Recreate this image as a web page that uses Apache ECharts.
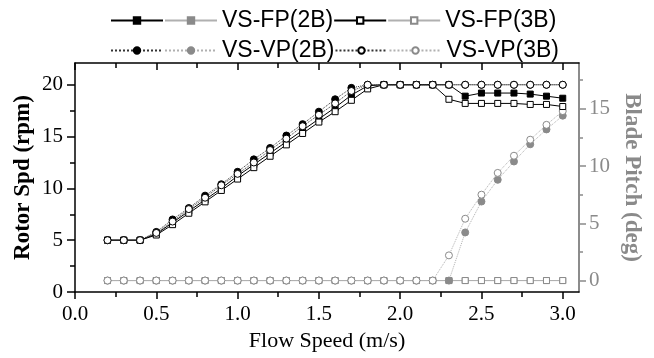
<!DOCTYPE html>
<html>
<head>
<meta charset="utf-8">
<script src="https://cdn.jsdelivr.net/npm/echarts@6/dist/echarts.min.js"></script>
<style>
  html, body { margin: 0; padding: 0; background: #fff; }
  #chart { width: 654px; height: 358px; }
</style>
</head>
<body>
<div id="chart"></div>
<script>
// flow speed (m/s)
var flowSpeed = [0.2, 0.3, 0.4, 0.5, 0.6, 0.7, 0.8, 0.9, 1.0, 1.1, 1.2, 1.3, 1.4, 1.5, 1.6,
  1.7, 1.8, 1.9, 2.0, 2.1, 2.2, 2.3, 2.4, 2.5, 2.6, 2.7, 2.8, 2.9, 3.0];

// rotor speed (rpm)
var rpmFP2B = [5.0, 5.0, 5.0, 5.6, 6.7, 7.8, 8.9, 10.0, 11.2, 12.3, 13.4, 14.5, 15.6, 16.7, 17.8,
  19.0, 19.9, 20, 20, 20, 20, 20, 18.9, 19.2, 19.2, 19.2, 19.1, 18.9, 18.7];
var rpmFP3B = [5.0, 5.0, 5.0, 5.5, 6.5, 7.6, 8.7, 9.8, 10.9, 12.0, 13.1, 14.2, 15.3, 16.4, 17.4,
  18.5, 19.6, 20, 20, 20, 20, 18.6, 18.2, 18.2, 18.2, 18.2, 18.1, 18.1, 17.9];
var rpmVP2B = [5.0, 5.0, 5.0, 5.8, 7.0, 8.1, 9.3, 10.4, 11.6, 12.8, 13.9, 15.1, 16.2, 17.4, 18.6,
  19.7, 20, 20, 20, 20, 20, 20, 20, 20, 20, 20, 20, 20, 20];
var rpmVP3B = [5.0, 5.0, 5.0, 5.7, 6.8, 8.0, 9.1, 10.3, 11.4, 12.5, 13.7, 14.8, 16.0, 17.1, 18.2,
  19.4, 20, 20, 20, 20, 20, 20, 20, 20, 20, 20, 20, 20, 20];

// blade pitch (deg)
var pitchFP2B = [0, 0, 0, 0, 0, 0, 0, 0, 0, 0, 0, 0, 0, 0, 0, 0, 0, 0, 0, 0, 0, 0, 0, 0, 0, 0, 0, 0, 0];
var pitchFP3B = [0, 0, 0, 0, 0, 0, 0, 0, 0, 0, 0, 0, 0, 0, 0, 0, 0, 0, 0, 0, 0, 0, 0, 0, 0, 0, 0, 0, 0];
var pitchVP2B = [0, 0, 0, 0, 0, 0, 0, 0, 0, 0, 0, 0, 0, 0, 0, 0, 0, 0, 0, 0, 0, 0,
  4.2, 6.9, 8.8, 10.4, 11.9, 13.2, 14.4];
var pitchVP3B = [0, 0, 0, 0, 0, 0, 0, 0, 0, 0, 0, 0, 0, 0, 0, 0, 0, 0, 0, 0, 0,
  2.2, 5.4, 7.5, 9.4, 10.9, 12.3, 13.6, 14.8];

// ticks
var xMajor = [0, 0.5, 1.0, 1.5, 2.0, 2.5, 3.0];
var xMinor = [0.25, 0.75, 1.25, 1.75, 2.25, 2.75];
var rpmMajor = [0, 5, 10, 15, 20];
var rpmMinor = [2.5, 7.5, 12.5, 17.5];
var pitchMajor = [0, 5, 10, 15];
var pitchMinor = [2.5, 7.5, 12.5, 17.5];

function pairs(ys) {
  return flowSpeed.map(function (x, i) { return [x, ys[i]]; });
}

var serif = '"Liberation Serif", "Times New Roman", serif';
var GRAY = '#8a8a8a';
var GRAY_LINE = '#b0b0b0';
var PLOT_H = 358 - 63 - 66;

function mk(name, ys, opt) {
  return {
    name: name,
    type: 'line',
    xAxisIndex: 0,
    yAxisIndex: opt.axis,
    data: pairs(ys),
    symbol: opt.symbol,
    symbolSize: opt.symbol === 'rect' ? 6 : 7,
    showAllSymbol: true,
    lineStyle: { color: opt.line, width: 1, type: opt.dash },
    itemStyle: { color: opt.fill, borderColor: opt.border, borderWidth: 1 },
    emphasis: { disabled: true },
    z: opt.z
  };
}

// x axis helper; top frame axes are bottom axes shifted up by the plot height,
// so their (downward) ticks point into the plot
function xAx(grid, ticks, len, withLine, shift) {
  return {
    gridIndex: grid, type: 'value', position: 'bottom', offset: shift, min: 0, max: 3.1,
    axisLine: { show: withLine, onZero: false, lineStyle: { color: '#000', width: 1.5 } },
    axisTick: { customValues: ticks, length: len, lineStyle: { color: '#000', width: 1.5 } },
    axisLabel: { show: false }, splitLine: { show: false }
  };
}

function yAx(grid, pos, min, max, ticks, len, color) {
  return {
    gridIndex: grid, type: 'value', position: pos, min: min, max: max,
    axisLine: { show: false, onZero: false },
    axisTick: { show: !!ticks, customValues: ticks || [], length: len, lineStyle: { color: color, width: 1.5 } },
    axisLabel: { show: false }, splitLine: { show: false }
  };
}

var myChart = echarts.init(document.getElementById('chart'));

var xBottom = xAx(0, xMajor, 7, true, 0);
xBottom.axisLabel = {
  customValues: xMajor, margin: 12, fontFamily: serif, fontSize: 21, color: '#000',
  formatter: function (v) { return v.toFixed(1); }
};
xBottom.name = 'Flow Speed (m/s)';
xBottom.nameLocation = 'middle';
xBottom.nameGap = 36;
xBottom.nameTextStyle = { fontFamily: serif, fontSize: 22, color: '#000' };

var yLeft = yAx(0, 'left', 0, 22.1, rpmMajor, 8, '#000');
yLeft.axisLine = { show: true, onZero: false, lineStyle: { color: '#000', width: 1.5 } };
yLeft.axisLabel = { customValues: rpmMajor, margin: 12, fontFamily: serif, fontSize: 21, color: '#000' };
yLeft.name = 'Rotor Spd (rpm)';
yLeft.nameLocation = 'middle';
yLeft.nameGap = 40;
yLeft.nameMoveOverlap = false;
yLeft.nameRotate = 90;
yLeft.nameTextStyle = { fontFamily: serif, fontSize: 23, fontWeight: 'bold', color: '#000' };

var yRight = yAx(0, 'right', -1, 19, pitchMajor, 7, GRAY);
yRight.axisLine = { show: true, onZero: false, lineStyle: { color: '#666', width: 1.5 } };
yRight.axisLabel = { customValues: pitchMajor, margin: 10, fontFamily: serif, fontSize: 21, color: GRAY };
yRight.name = 'Blade Pitch (deg)';
yRight.nameLocation = 'middle';
yRight.nameGap = 40;
yRight.nameRotate = -90;
yRight.nameTextStyle = { fontFamily: serif, fontSize: 23, fontWeight: 'bold', color: GRAY };

var box = { left: 75, right: 75, top: 63, bottom: 66 };

myChart.setOption({
  animation: false,
  backgroundColor: '#fff',
  grid: [
    Object.assign({}, box),
    Object.assign({}, box),
    Object.assign({}, box),
    Object.assign({}, box)
  ],
  legend: [
    {
      left: 105, top: 4, itemWidth: 52, itemHeight: 8, itemGap: 0,
      data: ['VS-FP(2B) rpm', 'VS-FP(2B)', 'VS-FP(3B) rpm', 'VS-FP(3B)'],
      formatter: function (n) { return n.indexOf(' rpm') > 0 ? '' : n; },
      textStyle: { fontFamily: '"Liberation Sans", Arial, sans-serif', fontSize: 23, color: '#000' },
      selectedMode: false
    },
    {
      left: 105, top: 34, itemWidth: 52, itemHeight: 8, itemGap: 0,
      data: ['VS-VP(2B) rpm', 'VS-VP(2B)', 'VS-VP(3B) rpm', 'VS-VP(3B)'],
      formatter: function (n) { return n.indexOf(' rpm') > 0 ? '' : n; },
      textStyle: { fontFamily: '"Liberation Sans", Arial, sans-serif', fontSize: 23, color: '#000' },
      selectedMode: false
    }
  ],
  xAxis: [
    xBottom,
    xAx(1, xMinor, 5, false, 0),
    xAx(2, xMajor, 7, true, -PLOT_H),
    xAx(3, xMinor, 5, false, -PLOT_H)
  ],
  yAxis: [
    yLeft,
    yRight,
    yAx(1, 'left', 0, 22.1, rpmMinor, 5, '#000'),
    yAx(1, 'right', -1, 19, pitchMinor, 4, GRAY),
    yAx(2, 'left', 0, 1, null, 0, '#000'),
    yAx(3, 'left', 0, 1, null, 0, '#000')
  ],
  series: [
    mk('VS-FP(2B)', pitchFP2B, { axis: 1, symbol: 'rect', line: GRAY_LINE, fill: GRAY, border: GRAY, dash: 'solid', z: 2 }),
    mk('VS-FP(3B)', pitchFP3B, { axis: 1, symbol: 'rect', line: GRAY_LINE, fill: '#fff', border: GRAY, dash: 'solid', z: 2 }),
    mk('VS-VP(2B)', pitchVP2B, { axis: 1, symbol: 'circle', line: GRAY_LINE, fill: GRAY, border: GRAY, dash: 'dotted', z: 3 }),
    mk('VS-VP(3B)', pitchVP3B, { axis: 1, symbol: 'circle', line: GRAY_LINE, fill: '#fff', border: GRAY, dash: 'dotted', z: 3 }),
    mk('VS-FP(2B) rpm', rpmFP2B, { axis: 0, symbol: 'rect', line: '#000', fill: '#000', border: '#000', dash: 'solid', z: 4 }),
    mk('VS-FP(3B) rpm', rpmFP3B, { axis: 0, symbol: 'rect', line: '#000', fill: '#fff', border: '#000', dash: 'solid', z: 4 }),
    mk('VS-VP(2B) rpm', rpmVP2B, { axis: 0, symbol: 'circle', line: '#333', fill: '#000', border: '#000', dash: 'dotted', z: 5 }),
    mk('VS-VP(3B) rpm', rpmVP3B, { axis: 0, symbol: 'circle', line: '#333', fill: '#fff', border: '#000', dash: 'dotted', z: 5 })
  ]
});
</script>
</body>
</html>
